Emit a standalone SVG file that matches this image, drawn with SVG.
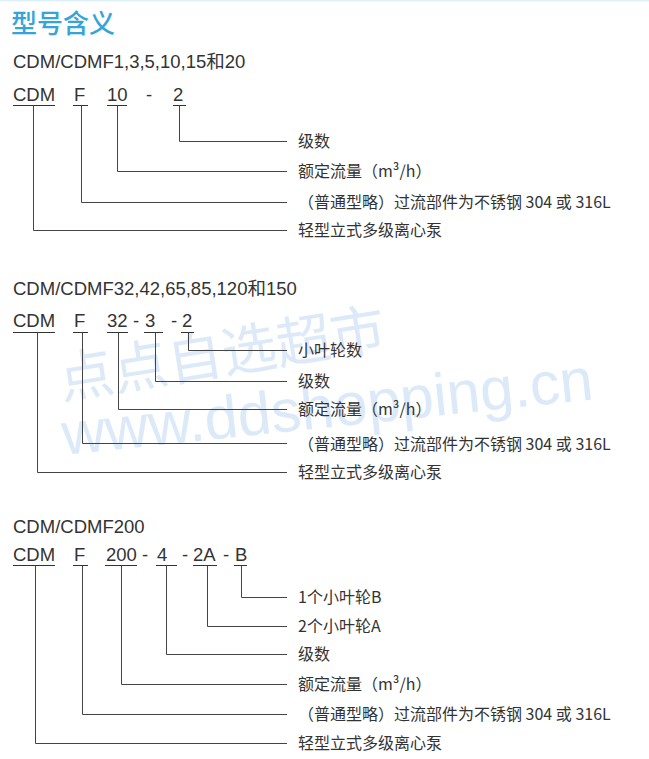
<svg xmlns="http://www.w3.org/2000/svg" width="649" height="759" viewBox="0 0 649 759">
<style>
.bg{fill:#ffffff}
.title{font-family:"Noto Sans CJK SC","Noto Sans",sans-serif;font-size:26px;font-weight:500;fill:#35a4d8}
.hdr{font-family:"Liberation Sans","Noto Sans CJK SC",sans-serif;font-size:18.5px;fill:#333}
.code{font-family:"Liberation Sans","Noto Sans CJK SC",sans-serif;font-size:18.5px;fill:#333}
.lbl{font-family:"Noto Sans CJK SC","Noto Sans",sans-serif;font-size:16px;fill:#333}
.ul{stroke:#333;stroke-width:1;fill:none}
.conn path{stroke:#444;stroke-width:1;fill:none}
.wm{fill:#d6e6f8;opacity:0.85}
</style>
<rect class="bg" x="0" y="0" width="649" height="759"/>
<rect x="0" y="0" width="649" height="1.5" fill="#dff1f8"/>
<g id="watermark">
<text class="wm" x="62" y="399" transform="rotate(-9 62 399)" font-family="Noto Sans CJK SC, sans-serif" font-size="55">点点自选超市</text>
<text class="wm" x="64" y="455" transform="rotate(-6 64 455)" font-family="Liberation Sans, sans-serif" font-size="60">www.ddshopping.cn</text>
</g>
<g id="title"><text class="title" x="11" y="33">型号含义</text></g>

<!-- Section 1 -->
<g id="s1-header"><text class="hdr" x="13" y="68">CDM/CDMF1,3,5,10,15和20</text></g>
<g id="s1-cdm"><text class="code" x="13" y="101">CDM</text><line class="ul" x1="13" y1="105.5" x2="55" y2="105.5"/></g>
<g id="s1-f"><text class="code" x="74" y="101">F</text><line class="ul" x1="73" y1="105.5" x2="88" y2="105.5"/></g>
<g id="s1-flow"><text class="code" x="107" y="101">10</text><line class="ul" x1="107" y1="105.5" x2="127" y2="105.5"/></g>
<text class="code" x="146" y="101">-</text>
<g id="s1-stage"><text class="code" x="173" y="101">2</text><line class="ul" x1="173" y1="105.5" x2="186" y2="105.5"/></g>
<g id="s1-l1"><text class="lbl" x="298" y="147">级数</text></g>
<g id="s1-l2"><text class="lbl" x="298" y="177">额定流量（m³/h）</text></g>
<g id="s1-l3"><text class="lbl" x="298" y="208">（普通型略）过流部件为不锈钢 304 或 316L</text></g>
<g id="s1-l4"><text class="lbl" x="298" y="236">轻型立式多级离心泵</text></g>

<!-- Section 2 -->
<g id="s2-header"><text class="hdr" x="13" y="295">CDM/CDMF32,42,65,85,120和150</text></g>
<g id="s2-cdm"><text class="code" x="13" y="327">CDM</text><line class="ul" x1="13" y1="332.5" x2="55" y2="332.5"/></g>
<g id="s2-f"><text class="code" x="74" y="327">F</text><line class="ul" x1="73" y1="332.5" x2="88" y2="332.5"/></g>
<g id="s2-flow"><text class="code" x="107" y="327">32</text><line class="ul" x1="107" y1="332.5" x2="128" y2="332.5"/></g>
<text class="code" x="133" y="327">-</text>
<g id="s2-stage"><text class="code" x="145" y="327">3</text><line class="ul" x1="144" y1="332.5" x2="163" y2="332.5"/></g>
<text class="code" x="171" y="327">-</text>
<g id="s2-imp"><text class="code" x="182" y="327">2</text><line class="ul" x1="181" y1="332.5" x2="194" y2="332.5"/></g>
<g id="s2-l1"><text class="lbl" x="298" y="356">小叶轮数</text></g>
<g id="s2-l2"><text class="lbl" x="298" y="387">级数</text></g>
<g id="s2-l3"><text class="lbl" x="298" y="415">额定流量（m³/h）</text></g>
<g id="s2-l4"><text class="lbl" x="298" y="450">（普通型略）过流部件为不锈钢 304 或 316L</text></g>
<g id="s2-l5"><text class="lbl" x="298" y="478">轻型立式多级离心泵</text></g>

<!-- Section 3 -->
<g id="s3-header"><text class="hdr" x="13" y="533">CDM/CDMF200</text></g>
<g id="s3-cdm"><text class="code" x="13" y="561">CDM</text><line class="ul" x1="13" y1="565.5" x2="55" y2="565.5"/></g>
<g id="s3-f"><text class="code" x="74" y="561">F</text><line class="ul" x1="73" y1="565.5" x2="88" y2="565.5"/></g>
<g id="s3-flow"><text class="code" x="106" y="561">200</text><line class="ul" x1="105" y1="565.5" x2="137" y2="565.5"/></g>
<text class="code" x="142" y="561">-</text>
<g id="s3-stage"><text class="code" x="157" y="561">4</text><line class="ul" x1="156" y1="565.5" x2="177" y2="565.5"/></g>
<text class="code" x="182" y="561">-</text>
<g id="s3-2a"><text class="code" x="193" y="561">2A</text><line class="ul" x1="193" y1="565.5" x2="217" y2="565.5"/></g>
<text class="code" x="223" y="561">-</text>
<g id="s3-b"><text class="code" x="235" y="561">B</text><line class="ul" x1="234" y1="565.5" x2="247" y2="565.5"/></g>
<g id="s3-l1"><text class="lbl" x="298" y="603">1个小叶轮B</text></g>
<g id="s3-l2"><text class="lbl" x="298" y="632">2个小叶轮A</text></g>
<g id="s3-l3"><text class="lbl" x="298" y="660">级数</text></g>
<g id="s3-l4"><text class="lbl" x="298" y="690">额定流量（m³/h）</text></g>
<g id="s3-l5"><text class="lbl" x="298" y="720">（普通型略）过流部件为不锈钢 304 或 316L</text></g>
<g id="s3-l6"><text class="lbl" x="298" y="749">轻型立式多级离心泵</text></g>

<g id="connectors" class="conn">
<path d="M179.5 105.5 V141.5 H287"/>
<path d="M117.5 105.5 V171.5 H287"/>
<path d="M81.5 105.5 V202.5 H287"/>
<path d="M33.5 105.5 V230.5 H287"/>

<path d="M188.5 332.5 V350.5 H287"/>
<path d="M155.5 332.5 V381.5 H287"/>
<path d="M118.5 332.5 V409.5 H287"/>
<path d="M82.5 332.5 V443.5 H287"/>
<path d="M37.5 332.5 V472.5 H287"/>

<path d="M241.5 565.5 V597.5 H287"/>
<path d="M207.5 565.5 V626.5 H287"/>
<path d="M166.5 565.5 V654.5 H287"/>
<path d="M121.5 565.5 V684.5 H287"/>
<path d="M82.5 565.5 V714.5 H287"/>
<path d="M35.5 565.5 V743.5 H287"/>
</g>
</svg>
